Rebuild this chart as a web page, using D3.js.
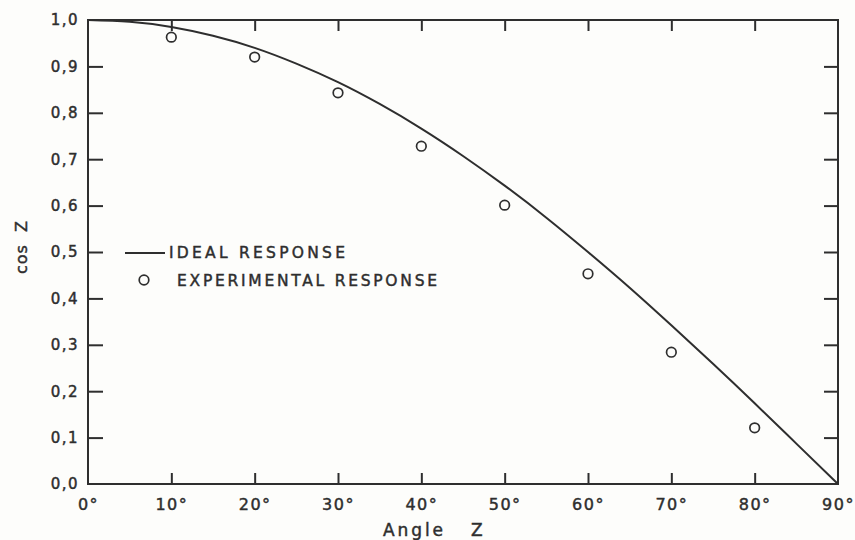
<!DOCTYPE html>
<html>
<head>
<meta charset="utf-8">
<script src="https://cdn.jsdelivr.net/npm/d3@7"></script>
<style>
  html, body { margin: 0; padding: 0; background: #fdfdfb; }
  svg { display: block; }
  text { font-family: "DejaVu Sans", sans-serif; fill: #2e2e2e; stroke: #2e2e2e; stroke-width: 0.45px; }
</style>
</head>
<body>
<svg id="chart" width="855" height="540"></svg>
<script>
// Zenith angle response of a cosine-corrected sensor
const angleTicks = [0, 10, 20, 30, 40, 50, 60, 70, 80, 90];
const yTicks = [0, 0.1, 0.2, 0.3, 0.4, 0.5, 0.6, 0.7, 0.8, 0.9, 1.0];
const yTickLabels = ["0,0", "0,1", "0,2", "0,3", "0,4", "0,5", "0,6", "0,7", "0,8", "0,9", "1,0"];

// Ideal response curve, sampled every 5°
const idealAngles = [0, 5, 10, 15, 20, 25, 30, 35, 40, 45, 50, 55, 60, 65, 70, 75, 80, 85, 90];
const idealValues = [1.0, 0.996, 0.985, 0.966, 0.94, 0.906, 0.866, 0.819, 0.766, 0.707, 0.643, 0.574, 0.5, 0.423, 0.342, 0.259, 0.174, 0.087, 0.0];

// Measured response
const expAngles = [10, 20, 30, 40, 50, 60, 70, 80];
const expValues = [0.963, 0.92, 0.843, 0.728, 0.601, 0.453, 0.284, 0.121];

const svg = d3.select("#chart");
const ink = "#2e2e2e";
const plotLeft = 88, plotRight = 838, plotTop = 20, plotBottom = 484;

const x = d3.scaleLinear().domain([0, 90]).range([plotLeft, plotRight]);
const y = d3.scaleLinear().domain([0, 1]).range([plotBottom, plotTop]);

// Frame
svg.append("rect")
  .attr("x", plotLeft).attr("y", plotTop)
  .attr("width", plotRight - plotLeft).attr("height", plotBottom - plotTop)
  .attr("fill", "none").attr("stroke", ink).attr("stroke-width", 2);

function styleAxis(g) {
  g.select(".domain").remove();
  g.selectAll(".tick line").attr("stroke", ink).attr("stroke-width", 2);
  g.selectAll(".tick text").attr("font-size", 15).attr("letter-spacing", 1.5).style("fill", ink);
}

// Left axis with labels, inward ticks
svg.append("g")
  .attr("transform", `translate(${plotLeft},0)`)
  .call(d3.axisLeft(y).tickValues(yTicks).tickSize(-15).tickPadding(9)
    .tickFormat((d, i) => yTickLabels[i]))
  .call(styleAxis)
  .call(g => g.selectAll(".tick").filter(d => d === 0 || d === 1).select("line").remove());

// Right axis, ticks only
svg.append("g")
  .attr("transform", `translate(${plotRight},0)`)
  .call(d3.axisRight(y).tickValues(yTicks.filter(d => d > 0 && d < 1)).tickSize(-14).tickFormat(""))
  .call(styleAxis);

// Bottom axis with degree labels
svg.append("g")
  .attr("transform", `translate(0,${plotBottom})`)
  .call(d3.axisBottom(x).tickValues(angleTicks).tickSize(-11).tickPadding(15)
    .tickFormat(d => d + "°"))
  .call(styleAxis)
  .call(g => g.selectAll(".tick text").attr("font-size", 16))
  .call(g => g.selectAll(".tick").filter(d => d === 0 || d === 90).select("line").remove());

// Top axis, ticks only
svg.append("g")
  .attr("transform", `translate(0,${plotTop})`)
  .call(d3.axisTop(x).tickValues(angleTicks.filter(d => d > 0 && d < 90)).tickSize(-11).tickFormat(""))
  .call(styleAxis);

// Ideal response line
const line = d3.line()
  .x((d, i) => x(idealAngles[i]))
  .y(d => y(d))
  .curve(d3.curveNatural);

svg.append("path")
  .datum(idealValues)
  .attr("d", line)
  .attr("fill", "none")
  .attr("stroke", ink)
  .attr("stroke-width", 2);

// Experimental points
svg.append("g").selectAll("circle")
  .data(expValues)
  .join("circle")
  .attr("cx", (d, i) => x(expAngles[i]))
  .attr("cy", d => y(d))
  .attr("r", 4.8)
  .attr("fill", "none")
  .attr("stroke", ink)
  .attr("stroke-width", 1.7);

// Legend
const legend = svg.append("g");
legend.append("line")
  .attr("x1", 125).attr("x2", 165).attr("y1", 253).attr("y2", 253)
  .attr("stroke", ink).attr("stroke-width", 2);
legend.append("text")
  .attr("x", 169).attr("y", 258)
  .attr("font-size", 15.5)
  .attr("textLength", 176)
  .text("IDEAL RESPONSE");
legend.append("circle")
  .attr("cx", 144).attr("cy", 280).attr("r", 4.8)
  .attr("fill", "none").attr("stroke", ink).attr("stroke-width", 1.7);
legend.append("text")
  .attr("x", 177).attr("y", 286)
  .attr("font-size", 15.5)
  .attr("textLength", 260)
  .text("EXPERIMENTAL RESPONSE");

// Axis titles
const xTitle = svg.append("g");
xTitle.append("text")
  .attr("x", 383).attr("y", 536)
  .attr("font-size", 17)
  .attr("textLength", 60)
  .text("Angle");
xTitle.append("text")
  .attr("x", 471).attr("y", 536)
  .attr("font-size", 17)
  .text("Z");

svg.append("text")
  .attr("transform", "translate(27,247) rotate(-90)")
  .attr("text-anchor", "middle")
  .attr("font-size", 16)
  .attr("letter-spacing", 1)
  .style("white-space", "pre")
  .text("cos  Z");
</script>
</body>
</html>
